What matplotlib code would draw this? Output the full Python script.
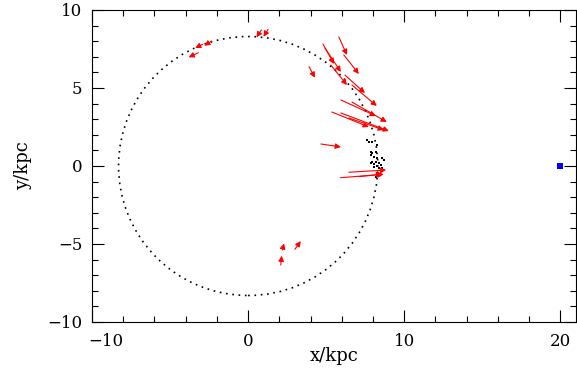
import numpy as np
import matplotlib.pyplot as plt
from matplotlib.patches import Circle

# ====================================================================
# Data (kpc)
# ====================================================================
R_SUN = 8.3

# arrows: tail (x0, y0) -> head (x1, y1)
ARR_X0 = [-2.92, -2.34, -3.19, 0.85, 1.28, 2.09, 2.19, 3.00, 3.90,
          5.81, 6.13, 4.79, 4.92, 5.30, 6.20, 6.65, 5.94, 6.65, 5.37,
          5.94, 6.45, 4.66, 5.92, 6.45, 7.09]
ARR_Y0 = [7.80, 8.01, 7.26, 8.72, 8.76, -6.35, -5.38, -5.34, 6.37,
          8.27, 7.12, 7.82, 7.56, 6.47, 5.83, 5.19, 4.23, 4.10, 3.46,
          3.40, 3.08, 1.41, -0.75, -0.40, -0.68]
ARR_X1 = [-3.39, -2.81, -3.81, 0.53, 0.98, 2.15, 2.30, 3.37, 4.28,
          6.33, 7.09, 5.50, 5.94, 6.33, 7.48, 8.24, 8.18, 8.88, 7.73,
          9.01, 8.69, 5.94, 8.69, 8.84, 8.58]
ARR_Y1 = [7.56, 7.71, 6.97, 8.25, 8.29, -5.75, -4.96, -4.81, 5.66,
          7.12, 5.90, 6.54, 6.03, 5.19, 4.68, 3.85, 3.21, 2.82, 2.50,
          2.24, 2.31, 1.22, -0.53, -0.26, -0.53]

# stars without arrows
DOT_X = [7.63, 7.73, 7.94, 8.26, 7.84, 7.94, 8.16, 7.84, 8.05, 8.26,
         8.58, 8.69, 7.94, 8.16, 7.84, 8.05, 8.37, 8.48, 8.05, 8.26,
         8.37, 8.58, 8.26, 8.16]
DOT_Y = [1.67, 1.56, 1.52, 1.35, 0.92, 0.81, 0.92, 0.71, 0.60, 0.49,
         0.49, 0.38, 0.28, 0.24, 0.17, 0.11, 0.17, 0.06, -0.04, 0.02,
         -0.15, -0.15, -0.47, -0.68]

# distant object
SQ_X = [20.0]
SQ_Y = [0.0]

X_MAJOR = [-10, 0, 10, 20]
X_LABELS = ['\u221210', '0', '10', '20']
Y_MAJOR = [-10, -5, 0, 5, 10]
Y_LABELS = ['\u221210', '\u22125', '0', '5', '10']

# ====================================================================
# Plot
# ====================================================================
plt.rcParams['font.family'] = 'DejaVu Serif'
FS = 12

fig = plt.figure(figsize=(5.77, 3.76), dpi=100)
ax = fig.add_axes([92 / 577, 1 - 322 / 376, 484 / 577, 312 / 376])

ax.add_patch(Circle((0, 0), R_SUN, fill=False, color='black', lw=1.2,
                    linestyle=(0, (1, 2.8))))

for x0, y0, x1, y1 in zip(ARR_X0, ARR_Y0, ARR_X1, ARR_Y1):
    ax.annotate('', xy=(x1, y1), xytext=(x0, y0),
                arrowprops=dict(arrowstyle='-|>', color='red', lw=0.8,
                                mutation_scale=8, shrinkA=0, shrinkB=0))

ax.plot(DOT_X, DOT_Y, 's', color='black', markersize=1.7, markeredgewidth=0)
ax.plot(SQ_X, SQ_Y, 's', color='blue', markersize=5, markeredgewidth=0)

ax.set_xlim(-10, 21)
ax.set_ylim(-10, 10)
# first x label is drawn by hand so that it starts at the corner
ax.set_xticks(X_MAJOR, [''] + X_LABELS[1:])
ax.set_xticks(np.arange(-10, 21, 2), minor=True)
ax.set_yticks(Y_MAJOR, Y_LABELS)
ax.set_yticks(np.arange(-10, 11, 1), minor=True)
ax.tick_params(which='both', direction='in', top=True, right=True,
               labelsize=FS, width=0.8)
ax.tick_params(which='major', length=8.5)
ax.tick_params(which='minor', length=4.3)
ax.tick_params(axis='x', which='major', pad=8)
ax.tick_params(axis='y', which='major', pad=7)
for s in ax.spines.values():
    s.set_linewidth(0.8)

ax.annotate(X_LABELS[0], xy=(X_MAJOR[0], 0), xycoords=ax.get_xaxis_transform(),
            xytext=(-3, -8), textcoords='offset points',
            ha='left', va='top', fontsize=FS)

ax.set_xlabel('x/kpc', fontsize=FS + 1, labelpad=-2)
ax.set_ylabel('y/kpc', fontsize=FS + 1, labelpad=11)

fig.savefig('out.png', dpi=100)
